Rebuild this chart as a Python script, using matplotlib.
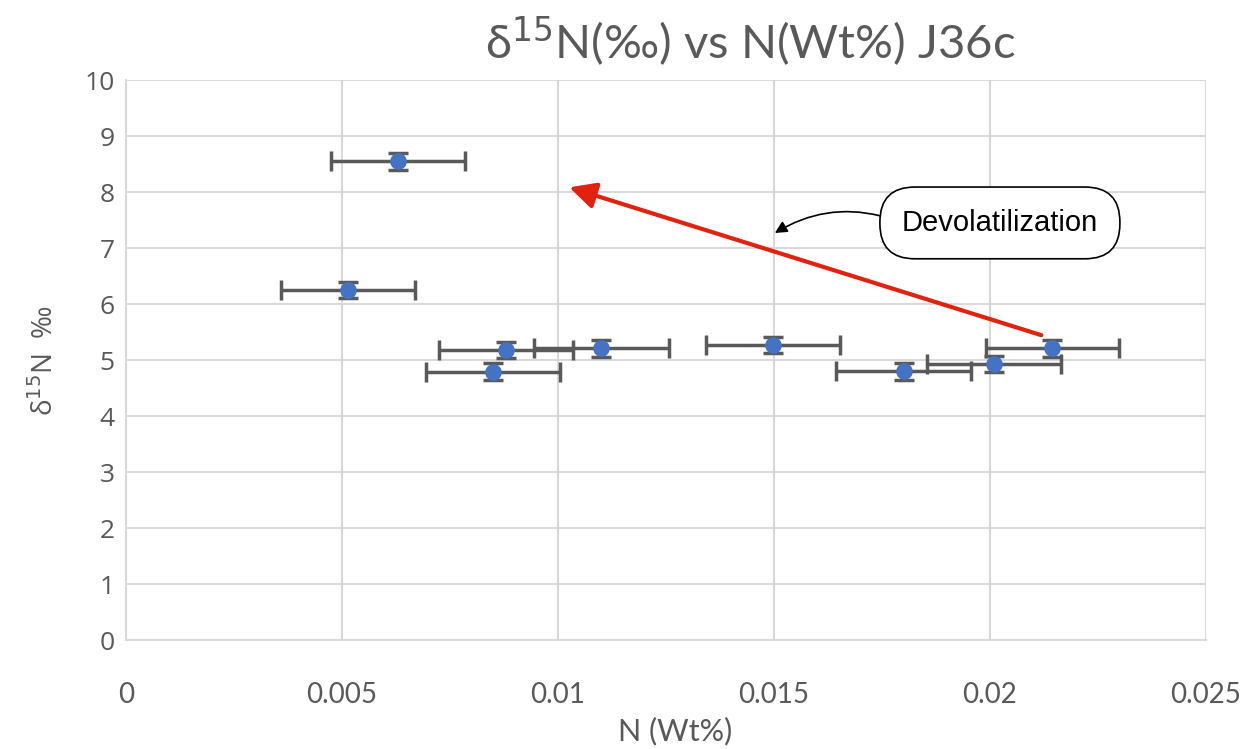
import matplotlib.pyplot as plt
from matplotlib.patches import FancyArrowPatch

# N content (Wt%) and d15N (permil) with their uncertainties
n_wt = [0.0063, 0.00514, 0.0088, 0.0085, 0.0110, 0.01498, 0.0180, 0.0201, 0.02144]
d15n = [8.55, 6.25, 5.18, 4.79, 5.21, 5.27, 4.80, 4.93, 5.21]
n_err = [0.00155, 0.00154, 0.00155, 0.00155, 0.00156, 0.00155, 0.00156, 0.00155, 0.00154]
d15n_err = [0.15, 0.15, 0.15, 0.15, 0.15, 0.15, 0.15, 0.15, 0.15]

x_ticks = [0, 0.005, 0.01, 0.015, 0.02, 0.025]
x_tick_labels = ["0", "0.005", "0.01", "0.015", "0.02", "0.025"]

fig = plt.figure(figsize=(12.51, 7.49), dpi=100)
ax = fig.add_axes([0.1007, 0.1455, 0.8633, 0.7475])

ax.errorbar(n_wt, d15n, xerr=n_err, yerr=d15n_err, fmt="o", color="#4472C4",
            markersize=11, ecolor="#595959", elinewidth=2.5, capsize=7,
            capthick=2.5, zorder=3)

ax.set_xlim(0, 0.025)
ax.set_ylim(0, 10)
ax.set_xticks(x_ticks)
ax.set_xticklabels(x_tick_labels, fontfamily="Lato", fontsize=20, color="#595959")
ax.set_yticks(range(0, 11))
ax.tick_params(axis="y", labelsize=19, labelcolor="#595959", length=0, pad=8)
ax.tick_params(axis="x", length=0, pad=30)
for lbl in ax.get_yticklabels():
    lbl.set_fontfamily("Open Sans")

ax.grid(True, color="#D9D9D9", linewidth=1.5)
ax.set_axisbelow(True)
for side in ["top", "right"]:
    ax.spines[side].set_visible(False)
ax.spines["left"].set_color("#D9D9D9")
ax.spines["bottom"].set_color("#D9D9D9")
ax.spines["left"].set_linewidth(1.5)
ax.spines["bottom"].set_linewidth(1.5)

fig.text(0.6, 0.944, "δ$^{15}$N(‰) vs N(Wt%) J36c", fontfamily="Lato", fontsize=34,
         color="#595959", ha="center", va="center")
fig.text(0.54, 0.024, "N (Wt%)", fontfamily="Lato", fontsize=22, color="#595959",
         ha="center", va="center")
ax.set_ylabel("δ$^{15}$N  ‰", fontfamily="Open Sans", fontsize=20, color="#595959",
              labelpad=18)

# devolatilization trend arrow
trend = FancyArrowPatch((0.02125, 5.43), (0.0102, 8.1), arrowstyle="-|>",
                        mutation_scale=40, color="#E0220F", linewidth=3, zorder=4)
ax.add_patch(trend)

# callout
ax.annotate("Devolatilization", xy=(0.01502, 7.27), xytext=(0.02023, 7.45),
            fontfamily="Liberation Sans", fontsize=21, color="black",
            ha="center", va="center",
            bbox=dict(boxstyle="round,pad=0.75,rounding_size=1.2", fc="white",
                      ec="black", lw=1.2),
            arrowprops=dict(arrowstyle="-|>", color="black", lw=1.2,
                            relpos=(0, 0.5), shrinkA=0, shrinkB=0,
                            connectionstyle="arc3,rad=0.25", mutation_scale=18),
            zorder=5)

fig.savefig("out.png", dpi=100)
